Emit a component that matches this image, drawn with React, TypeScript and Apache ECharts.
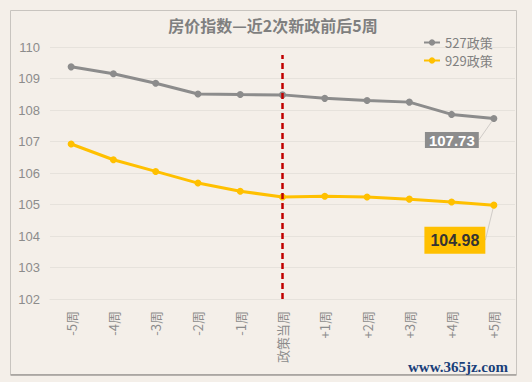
import React, { useEffect, useRef } from "react";
import * as echarts from "echarts";

const title = "房价指数—近2次新政前后5周";
const categories = ["-5周", "-4周", "-3周", "-2周", "-1周", "政策当周", "+1周", "+2周", "+3周", "+4周", "+5周"];
const series527 = [109.37, 109.15, 108.85, 108.51, 108.49, 108.48, 108.37, 108.3, 108.25, 107.86, 107.73];
const series929 = [106.92, 106.42, 106.05, 105.68, 105.42, 105.24, 105.26, 105.24, 105.17, 105.08, 104.98];
const yTicks = { min: 102, max: 110, interval: 1 };
const policyWeek = "政策当周";
const policyLineTop = 109.75;

export default function App() {
  const ref = useRef<HTMLDivElement>(null);
  useEffect(() => {
    document.body.style.margin = "0";
    const chart = echarts.init(ref.current!, null, { renderer: "svg" });
    const last = series527.length - 1;
    const d527 = series527.map((v, i) =>
      i === last
        ? {
            value: v,
            label: {
              show: true,
              formatter: (p: any) => p.value.toFixed(2),
              color: "#ffffff",
              fontWeight: "bold",
              fontSize: 15,
              fontFamily: "Liberation Sans, Arial, sans-serif",
              backgroundColor: "#8c8c8c",
              padding: [1, 4, 0, 4],
              position: "bottom",
            },
            labelLine: { show: true, lineStyle: { color: "#d0ccc8", width: 1 } },
          }
        : v
    );
    const d929 = series929.map((v, i) =>
      i === last
        ? {
            value: v,
            label: {
              show: true,
              formatter: (p: any) => p.value.toFixed(2),
              color: "#333333",
              fontWeight: "bold",
              fontSize: 16,
              fontFamily: "Liberation Sans, Arial, sans-serif",
              backgroundColor: "#ffc000",
              padding: [6, 6, 5, 6],
              position: "bottom",
            },
            labelLine: { show: true, lineStyle: { color: "#d0ccc8", width: 1 } },
          }
        : v
    );
    chart.setOption({
      animation: false,
      backgroundColor: "#f4efe9",
      title: {
        text: title,
        left: 268,
        top: 12,
        textAlign: "center",
        textStyle: { color: "#7f7f7f", fontSize: 16, fontWeight: "bold", fontFamily: "Noto Sans CJK SC" },
      },
      legend: {
        orient: "vertical",
        left: 418,
        top: 31,
        itemGap: 5,
        itemWidth: 16,
        itemHeight: 8,
        textStyle: { color: "#808080", fontSize: 13, fontFamily: "Noto Sans CJK SC" },
        data: ["527政策", "929政策"],
      },
      grid: { left: 50, right: 17, top: 47, bottom: 83 },
      xAxis: {
        type: "category",
        data: categories,
        boundaryGap: true,
        axisLine: { show: true, lineStyle: { color: "#e6e2dc" } },
        axisTick: { show: false },
        axisLabel: {
          rotate: 90,
          color: "#8c8c8c",
          fontSize: 13,
          margin: 12,
          fontFamily: "Noto Sans CJK SC",
        },
      },
      yAxis: {
        type: "value",
        min: yTicks.min,
        max: yTicks.max,
        interval: yTicks.interval,
        axisLine: { show: false },
        axisTick: { show: false },
        axisLabel: { color: "#8c8c8c", fontSize: 13, margin: 10, fontFamily: "Liberation Sans, Arial, sans-serif" },
        splitLine: { lineStyle: { color: "#e6e2dc" } },
      },
      series: [
        {
          name: "527政策",
          type: "line",
          data: d527,
          symbol: "circle",
          symbolSize: 7,
          itemStyle: { color: "#8c8c8c" },
          lineStyle: { color: "#8c8c8c", width: 3 },
          labelLayout: { dx: -42, dy: 5 },
          markLine: {
            silent: true,
            symbol: "none",
            label: { show: false },
            lineStyle: { color: "#c00000", type: [6, 4], width: 2.5 },
            data: [[{ coord: [policyWeek, yTicks.min] }, { coord: [policyWeek, policyLineTop] }]],
          },
          z: 3,
        },
        {
          name: "929政策",
          type: "line",
          data: d929,
          symbol: "circle",
          symbolSize: 7,
          itemStyle: { color: "#ffc000" },
          lineStyle: { color: "#ffc000", width: 3 },
          labelLayout: { dx: -39, dy: 13 },
          z: 3,
        },
      ],
      graphic: [
        {
          type: "rect",
          shape: { x: 10.5, y: 10.5, width: 506, height: 364 },
          style: { fill: "none", stroke: "#c8c4bf", lineWidth: 1 },
          silent: true,
        },
        {
          type: "line",
          shape: { x1: 10.5, y1: 375, x2: 516.5, y2: 375 },
          style: { stroke: "#a09c98", lineWidth: 1.5 },
          silent: true,
        },
        {
          type: "text",
          x: 408,
          y: 359,
          style: {
            text: "www.365jz.com",
            fill: "#1a3f7a",
            font: "bold 15px 'Liberation Serif', serif",
          },
          silent: true,
          z: 100,
        },
      ],
    });
    return () => chart.dispose();
  }, []);
  return <div ref={ref} style={{ width: 532, height: 382, position: "absolute", left: 0, top: 0 }} />;
}
